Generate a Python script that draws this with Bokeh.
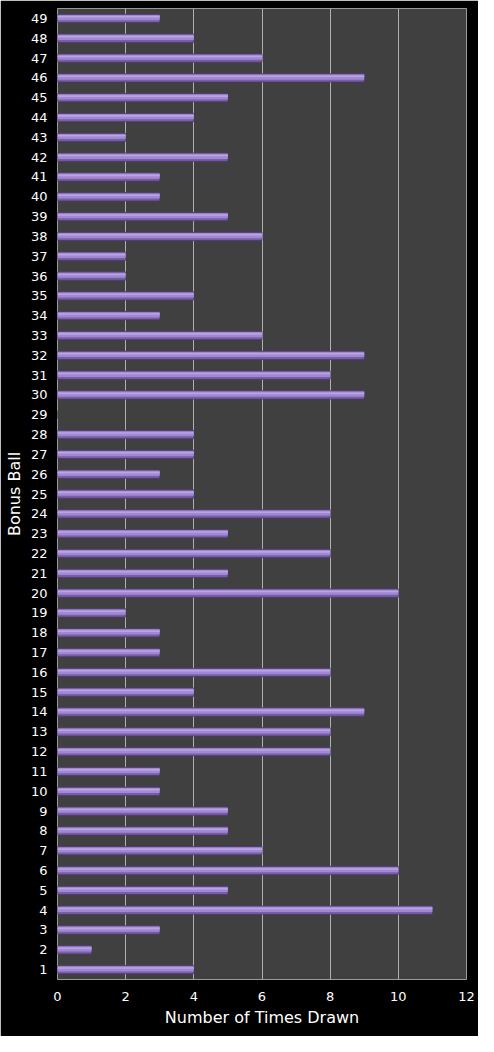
from bokeh.plotting import figure
from bokeh.models import Range1d, FixedTicker
from bokeh.embed import file_html
from bokeh.resources import INLINE

balls = list(range(1, 50))
times_drawn = [4, 1, 3, 11, 5, 10, 6, 5, 5, 3,
               3, 8, 8, 9, 4, 8, 3, 3, 2, 10,
               5, 8, 5, 8, 4, 3, 4, 4, 0, 9,
               8, 9, 6, 3, 4, 2, 2, 6, 5, 3,
               3, 5, 2, 4, 5, 9, 6, 4, 3]

p = figure(width=478, height=1036, output_backend="svg", toolbar_location=None,
           x_range=Range1d(0, 12), y_range=Range1d(0.5, 49.5),
           x_axis_label="Number of Times Drawn", y_axis_label="Bonus Ball",
           min_border_left=57, min_border_right=12, min_border_top=8,
           min_border_bottom=57)

p.background_fill_color = "#404040"
p.border_fill_color = "black"
p.outline_line_color = "#9a9a9a"

# bar body, darker lower edge and lighter highlight
p.hbar(y=balls, right=times_drawn, left=0, height=0.42,
       fill_color="#7a5fa8", line_color="#4e3a70", line_width=0.8)
p.hbar(y=[b + 0.04 for b in balls], right=times_drawn, left=0, height=0.26,
       fill_color="#a088d2", line_color=None)
p.hbar(y=[b + 0.08 for b in balls], right=times_drawn, left=0, height=0.08,
       fill_color="#b9a5e4", line_color=None)

p.xaxis.ticker = FixedTicker(ticks=[0, 2, 4, 6, 8, 10, 12])
p.yaxis.ticker = FixedTicker(ticks=balls)

for ax in (p.xaxis[0], p.yaxis[0]):
    ax.axis_line_color = None
    ax.major_tick_line_color = None
    ax.minor_tick_line_color = None
    ax.major_tick_out = 0
    ax.major_tick_in = 0
    ax.major_label_text_color = "white"
    ax.major_label_text_font = "DejaVu Sans"
    ax.major_label_text_font_size = "13px"
    ax.axis_label_text_color = "white"
    ax.axis_label_text_font = "DejaVu Sans"
    ax.axis_label_text_font_size = "16px"
    ax.axis_label_text_font_style = "normal"
    ax.axis_label_standoff = 4

p.xaxis.major_label_standoff = 12
p.yaxis.major_label_standoff = 10

p.xgrid.grid_line_color = "#b0b0b0"
p.xgrid.grid_line_width = 1
p.ygrid.grid_line_color = None

open("out.html", "w").write(file_html(p, INLINE))
